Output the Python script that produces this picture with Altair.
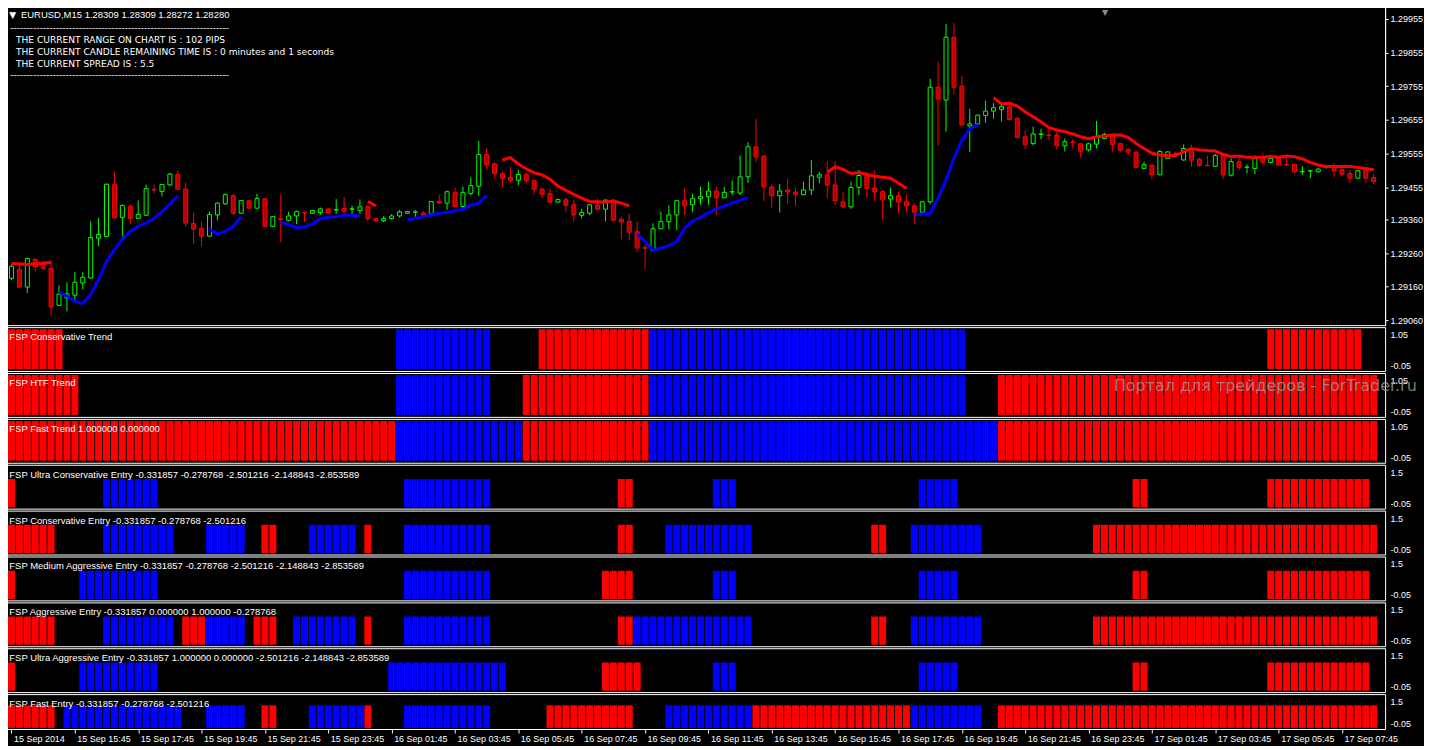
import altair as alt
import pandas as pd

# ---------------- values ----------------
open_ = [1.29185,1.29212,1.29159,1.29241,1.29230,1.29215,1.29105,1.29127,1.29135,1.29171,
 1.29186,1.29304,1.29309,1.29463,1.29366,1.29398,1.29363,1.29372,1.29448,1.29443,
 1.29462,1.29493,1.29450,1.29348,1.29333,1.29310,1.29373,1.29406,1.29430,1.29378,
 1.29415,1.29393,1.29421,1.29339,1.29362,1.29357,1.29370,1.29381,1.29378,1.29380,
 1.29391,1.29388,1.29392,1.29390,1.29386,1.29398,1.29362,1.29356,1.29362,1.29370,
 1.29378,1.29381,1.29379,1.29375,1.29413,1.29408,1.29439,1.29398,1.29437,1.29458,
 1.29552,1.29525,1.29496,1.29484,1.29476,1.29493,1.29475,1.29450,1.29436,1.29411,
 1.29418,1.29403,1.29372,1.29378,1.29403,1.29390,1.29416,1.29360,1.29354,1.29323,
 1.29276,1.29267,1.29332,1.29353,1.29373,1.29415,1.29403,1.29421,1.29427,1.29444,
 1.29424,1.29441,1.29438,1.29486,1.29575,1.29548,1.29456,1.29430,1.29447,1.29441,
 1.29433,1.29447,1.29485,1.29492,1.29462,1.29412,1.29397,1.29455,1.29490,1.29453,
 1.29442,1.29420,1.29430,1.29412,1.29400,1.29381,1.29412,1.29752,1.29714,1.29900,
 1.29755,1.29637,1.29643,1.29668,1.29681,1.29686,1.29694,1.29660,1.29605,1.29585,
 1.29612,1.29610,1.29610,1.29578,1.29589,1.29584,1.29566,1.29583,1.29600,1.29610,
 1.29585,1.29568,1.29558,1.29511,1.29521,1.29492,1.29541,1.29556,1.29536,1.29568,
 1.29538,1.29520,1.29517,1.29549,1.29491,1.29531,1.29514,1.29511,1.29541,1.29529,
 1.29541,1.29522,1.29523,1.29501,1.29503,1.29501,1.29514,1.29514,1.29507,1.29496,
 1.29482,1.29507,1.29484]

high_ = [1.29226,1.29226,1.29246,1.29245,1.29237,1.29238,1.29164,1.29173,1.29203,1.29203,
 1.29354,1.29365,1.29466,1.29501,1.29404,1.29404,1.29416,1.29463,1.29463,1.29464,
 1.29498,1.29505,1.29469,1.29380,1.29354,1.29383,1.29410,1.29437,1.29436,1.29417,
 1.29417,1.29436,1.29423,1.29370,1.29434,1.29383,1.29386,1.29383,1.29387,1.29395,
 1.29393,1.29420,1.29425,1.29400,1.29419,1.29400,1.29365,1.29370,1.29375,1.29388,
 1.29384,1.29387,1.29385,1.29414,1.29433,1.29445,1.29454,1.29457,1.29484,1.29593,
 1.29572,1.29528,1.29501,1.29516,1.29507,1.29498,1.29478,1.29451,1.29451,1.29421,
 1.29425,1.29419,1.29391,1.29404,1.29421,1.29419,1.29420,1.29368,1.29377,1.29354,
 1.29285,1.29348,1.29383,1.29401,1.29416,1.29454,1.29436,1.29457,1.29472,1.29456,
 1.29456,1.29475,1.29549,1.29589,1.29658,1.29549,1.29464,1.29465,1.29480,1.29453,
 1.29472,1.29536,1.29501,1.29533,1.29533,1.29442,1.29472,1.29507,1.29501,1.29505,
 1.29447,1.29454,1.29442,1.29434,1.29408,1.29415,1.29777,1.29827,1.29939,1.29942,
 1.29785,1.29688,1.29670,1.29712,1.29705,1.29702,1.29699,1.29661,1.29623,1.29635,
 1.29629,1.29625,1.29625,1.29600,1.29598,1.29587,1.29587,1.29652,1.29617,1.29611,
 1.29586,1.29569,1.29564,1.29531,1.29522,1.29566,1.29561,1.29561,1.29582,1.29581,
 1.29543,1.29549,1.29554,1.29556,1.29541,1.29543,1.29523,1.29549,1.29558,1.29551,
 1.29543,1.29546,1.29524,1.29517,1.29505,1.29511,1.29521,1.29526,1.29513,1.29507,
 1.29507,1.29511,1.29496]

low_ = [1.29179,1.29155,1.29141,1.29206,1.29211,1.29073,1.29103,1.29087,1.29120,1.29152,
 1.29185,1.29280,1.29308,1.29362,1.29309,1.29346,1.29362,1.29371,1.29437,1.29428,
 1.29459,1.29448,1.29337,1.29288,1.29280,1.29309,1.29357,1.29403,1.29373,1.29376,
 1.29391,1.29391,1.29337,1.29336,1.29292,1.29354,1.29346,1.29352,1.29376,1.29373,
 1.29377,1.29376,1.29377,1.29376,1.29376,1.29354,1.29352,1.29352,1.29359,1.29365,
 1.29375,1.29365,1.29371,1.29374,1.29405,1.29388,1.29395,1.29393,1.29430,1.29430,
 1.29510,1.29482,1.29457,1.29469,1.29461,1.29469,1.29434,1.29423,1.29408,1.29410,
 1.29383,1.29354,1.29363,1.29372,1.29385,1.29354,1.29354,1.29301,1.29298,1.29263,
 1.29213,1.29266,1.29331,1.29330,1.29328,1.29373,1.29381,1.29403,1.29403,1.29373,
 1.29423,1.29431,1.29432,1.29467,1.29530,1.29414,1.29395,1.29380,1.29406,1.29399,
 1.29431,1.29432,1.29467,1.29423,1.29403,1.29393,1.29391,1.29432,1.29425,1.29413,
 1.29357,1.29396,1.29378,1.29383,1.29347,1.29380,1.29405,1.29579,1.29620,1.29730,
 1.29639,1.29559,1.29642,1.29646,1.29658,1.29650,1.29652,1.29600,1.29568,1.29579,
 1.29597,1.29595,1.29568,1.29561,1.29570,1.29544,1.29561,1.29570,1.29598,1.29561,
 1.29559,1.29551,1.29513,1.29510,1.29479,1.29491,1.29539,1.29552,1.29534,1.29516,
 1.29516,1.29517,1.29516,1.29479,1.29487,1.29505,1.29496,1.29494,1.29523,1.29525,
 1.29519,1.29519,1.29496,1.29492,1.29482,1.29499,1.29511,1.29485,1.29488,1.29467,
 1.29480,1.29467,1.29464]

close_ = [1.29221,1.29159,1.29244,1.29220,1.29215,1.29100,1.29138,1.29139,1.29173,1.29188,
 1.29306,1.29315,1.29464,1.29365,1.29401,1.29363,1.29374,1.29451,1.29447,1.29463,
 1.29494,1.29449,1.29349,1.29331,1.29310,1.29374,1.29408,1.29433,1.29378,1.29416,
 1.29393,1.29422,1.29339,1.29368,1.29360,1.29370,1.29383,1.29380,1.29386,1.29391,
 1.29379,1.29389,1.29384,1.29391,1.29397,1.29362,1.29356,1.29362,1.29370,1.29382,
 1.29383,1.29382,1.29372,1.29413,1.29409,1.29442,1.29398,1.29439,1.29460,1.29552,
 1.29522,1.29496,1.29482,1.29476,1.29493,1.29475,1.29449,1.29434,1.29411,1.29419,
 1.29402,1.29373,1.29380,1.29403,1.29390,1.29417,1.29357,1.29352,1.29322,1.29275,
 1.29274,1.29332,1.29353,1.29373,1.29415,1.29400,1.29421,1.29427,1.29444,1.29424,
 1.29440,1.29442,1.29486,1.29575,1.29545,1.29456,1.29430,1.29444,1.29441,1.29433,
 1.29447,1.29489,1.29492,1.29462,1.29415,1.29397,1.29454,1.29490,1.29452,1.29441,
 1.29418,1.29430,1.29411,1.29400,1.29381,1.29412,1.29752,1.29717,1.29900,1.29752,
 1.29640,1.29643,1.29669,1.29681,1.29691,1.29694,1.29656,1.29603,1.29581,1.29613,
 1.29613,1.29609,1.29578,1.29590,1.29588,1.29562,1.29584,1.29604,1.29612,1.29582,
 1.29565,1.29559,1.29514,1.29522,1.29492,1.29561,1.29560,1.29555,1.29570,1.29535,
 1.29520,1.29519,1.29549,1.29492,1.29531,1.29514,1.29515,1.29541,1.29529,1.29541,
 1.29521,1.29521,1.29501,1.29502,1.29504,1.29509,1.29515,1.29504,1.29494,1.29482,
 1.29504,1.29482,1.29472]

# moving-average line: (colour, first bar, values)
ma_segments = [
    ("#FF0000", 0, [1.29229,1.29228,1.29226,1.29228,1.29230,1.29232]),
    ("#0000FF", 6, [1.29144,1.29132,1.29117,1.29110,1.29137,1.29181,1.29235,1.29270,
                    1.29302,1.29324,1.29339,1.29349,1.29363,1.29383,1.29406,1.29430]),
    ("#0000FF", 25, [1.29331,1.29317,1.29324,1.29339,1.29368]),
    ("#0000FF", 34, [1.29352,1.29344,1.29336,1.29337,1.29346,1.29362,1.29366,1.29368,
                     1.29373,1.29371,1.29370]),
    ("#FF0000", 45, [1.29413,1.29400]),
    ("#0000FF", 50, [1.29359,1.29363,1.29368,1.29372,1.29378,1.29380,1.29385,1.29390,
                     1.29402,1.29408,1.29431]),
    ("#FF0000", 62, [1.29536,1.29543,1.29524,1.29510,1.29498,1.29492,1.29479,1.29459,
                     1.29446,1.29434,1.29423,1.29413,1.29412,1.29411,1.29415,1.29408,1.29400]),
    ("#0000FF", 79, [1.29316,1.29294,1.29268,1.29275,1.29282,1.29294,1.29334,1.29356,
                     1.29365,1.29380,1.29391,1.29399,1.29408,1.29416,1.29425]),
    ("#FF0000", 103, [1.29499,1.29516,1.29508,1.29496,1.29499,1.29493,1.29488,1.29485,
                      1.29482,1.29467,1.29452]),
    ("#0000FF", 114, [1.29373,1.29376,1.29378,1.29423,1.29477,1.29541,1.29595,1.29628,1.29640]),
    ("#FF0000", 124, [1.29721,1.29702,1.29704,1.29696,1.29679,1.29664,1.29649,1.29632,
                      1.29625,1.29620,1.29613,1.29605,1.29599,1.29605,1.29607,1.29610,
                      1.29610,1.29603,1.29585,1.29570,1.29556,1.29551,1.29549,1.29549,
                      1.29561,1.29570,1.29566,1.29564,1.29563,1.29553,1.29546,1.29548,
                      1.29544,1.29544,1.29544,1.29546,1.29544,1.29548,1.29546,1.29539,
                      1.29529,1.29521,1.29517,1.29517,1.29517,1.29517,1.29514,1.29511,1.29507]),
]

price_ticks = [1.29955, 1.29855, 1.29755, 1.29655, 1.29555, 1.29455,
               1.29360, 1.29260, 1.29160, 1.29060]

time_tick_bars = [0, 8, 16, 24, 32, 40, 48, 56, 64, 72, 80, 88, 96, 104,
                  112, 120, 128, 136, 144, 152, 160, 168]
time_labels = ["15 Sep 2014", "15 Sep 15:45", "15 Sep 17:45", "15 Sep 19:45",
               "15 Sep 21:45", "15 Sep 23:45", "16 Sep 01:45", "16 Sep 03:45",
               "16 Sep 05:45", "16 Sep 07:45", "16 Sep 09:45", "16 Sep 11:45",
               "16 Sep 13:45", "16 Sep 15:45", "16 Sep 17:45", "16 Sep 19:45",
               "16 Sep 21:45", "16 Sep 23:45", "17 Sep 01:45", "17 Sep 03:45",
               "17 Sep 05:45", "17 Sep 07:45"]

# indicator rows: (title, kind, [(colour, first bar, last bar), ...])
indicator_rows = [
    ("FSP Conservative Trend", "trend",
     [("R", 0, 6), ("B", 49, 60), ("R", 67, 80), ("B", 81, 120), ("R", 159, 170)]),
    ("FSP HTF Trend", "trend",
     [("R", 0, 8), ("B", 49, 60), ("R", 65, 80), ("B", 81, 120), ("R", 125, 172)]),
    ("FSP Fast Trend 1.000000 0.000000", "trend",
     [("R", 0, 48), ("B", 49, 64), ("R", 65, 80), ("B", 81, 124), ("R", 125, 172)]),
    ("FSP Ultra Conservative Entry -0.331857 -0.278768 -2.501216 -2.148843 -2.853589", "entry",
     [("R", 0, 0), ("B", 12, 18), ("B", 50, 60), ("R", 77, 78), ("B", 89, 91),
      ("B", 115, 119), ("R", 142, 143), ("R", 159, 171)]),
    ("FSP Conservative Entry -0.331857 -0.278768 -2.501216", "entry",
     [("R", 0, 5), ("B", 12, 20), ("B", 25, 29), ("R", 32, 33), ("B", 38, 43), ("R", 45, 45),
      ("B", 50, 60), ("R", 77, 78), ("B", 83, 93), ("R", 109, 110), ("B", 114, 122), ("R", 137, 172)]),
    ("FSP Medium Aggressive Entry -0.331857 -0.278768 -2.501216 -2.148843 -2.853589", "entry",
     [("R", 0, 0), ("B", 9, 18), ("B", 50, 60), ("R", 75, 78), ("B", 89, 91),
      ("B", 115, 119), ("R", 142, 143), ("R", 159, 171)]),
    ("FSP Aggressive Entry -0.331857 0.000000 1.000000 -0.278768", "entry",
     [("R", 0, 5), ("B", 12, 20), ("R", 22, 24), ("B", 25, 29), ("R", 31, 33), ("B", 36, 43),
      ("R", 45, 45), ("B", 50, 60), ("R", 77, 78), ("B", 79, 93), ("R", 109, 110),
      ("B", 114, 122), ("R", 137, 172)]),
    ("FSP Ultra Aggressive Entry -0.331857 1.000000 0.000000 -2.501216 -2.148843 -2.853589", "entry",
     [("R", 0, 0), ("B", 9, 18), ("B", 48, 62), ("R", 75, 79), ("B", 89, 91),
      ("B", 115, 119), ("R", 142, 143), ("R", 159, 171)]),
    ("FSP Fast Entry -0.331857 -0.278768 -2.501216", "entry",
     [("R", 0, 5), ("B", 7, 21), ("B", 25, 29), ("R", 32, 33), ("B", 38, 44), ("R", 45, 45),
      ("B", 50, 60), ("R", 68, 78), ("B", 83, 93), ("R", 94, 113), ("B", 114, 122), ("R", 125, 172)]),
]

header_text = "EURUSD,M15  1.28309 1.28309 1.28272 1.28280"
info_lines = ["THE CURRENT RANGE ON CHART IS : 102 PIPS",
              "THE CURRENT CANDLE REMAINING TIME IS : 0 minutes and 1 seconds",
              "THE CURRENT SPREAD IS : 5.5"]
watermark = "Портал для трейдеров - ForTrader.ru"

# ---------------- layout / style ----------------
W = 1383
MAIN_H = 320
IND_H = 44
LAST_H = 35
X_DOMAIN = [-0.0625, 172.8125]
Y_DOMAIN = [1.290461, 1.299926]
WHITE = "#FFFFFF"
NUM_FONT = "Liberation Sans"
COLOR_MAP = {"R": "#FF0000", "B": "#0000FF"}

x_scale = alt.Scale(domain=X_DOMAIN, nice=False, zero=False)
y_scale = alt.Scale(domain=Y_DOMAIN, nice=False, zero=False)

candles = pd.DataFrame({"bar": list(range(len(open_))), "open": open_, "high": high_,
                        "low": low_, "close": close_})
up = candles["close"] >= candles["open"]
candles["wick_col"] = up.map({True: "#00FF00", False: "#FF0000"})
candles["body_fill"] = up.map({True: "#000000", False: "#B40000"})
candles["body_edge"] = up.map({True: "#00FF00", False: "#FF0000"})

ma_rows = []
for seg_id, (col, start, vals) in enumerate(ma_segments):
    for i, v in enumerate(vals):
        ma_rows.append({"bar": start + i, "ma": v, "col": col, "seg": seg_id})
ma_df = pd.DataFrame(ma_rows)

main_axis = alt.Axis(orient="right", values=price_ticks, format=".5f", title=None,
                     grid=False, tickSize=3, tickColor=WHITE, domainColor=WHITE,
                     labelColor=WHITE, labelFont=NUM_FONT, labelFontSize=9,
                     labelPadding=2, labelOverlap=False)


def ytrack(field):
    return alt.Y(f"{field}:Q", scale=y_scale, axis=main_axis)


def xtrack(axis=None):
    return alt.X("bar:Q", scale=x_scale, axis=axis)


def label(text, x, y, size=9.5, font=NUM_FONT, color=WHITE, baseline="alphabetic",
          opacity=1.0):
    return alt.Chart(pd.DataFrame({"t": [text]})).mark_text(
        align="left", baseline=baseline, font=font, fontSize=size, color=color,
        opacity=opacity
    ).encode(x=alt.value(x), y=alt.value(y), text="t:N")


base = alt.Chart(candles)
wicks = base.mark_rule(strokeWidth=1, clip=True).encode(
    x=xtrack(), y=ytrack("low"), y2="high:Q",
    color=alt.Color("wick_col:N", scale=None))
bodies = base.mark_bar(size=4, strokeWidth=1, clip=True).encode(
    x=xtrack(), y=ytrack("open"), y2="close:Q",
    fill=alt.Fill("body_fill:N", scale=None),
    stroke=alt.Stroke("body_edge:N", scale=None))
ma_line = alt.Chart(ma_df).mark_line(strokeWidth=3, clip=True).encode(
    x=xtrack(), y=ytrack("ma"),
    color=alt.Color("col:N", scale=None), detail="seg:N")

texts = [
    label("\u25BC", 3.3, 8.5, size=9, font="DejaVu Sans", baseline="middle"),
    label(header_text, 15, 12, size=9.5),
    label("-" * 67, 4, 24.6, size=9.1, font="DejaVu Sans"),
    label(info_lines[0], 10, 36.7, size=9.1, font="DejaVu Sans"),
    label(info_lines[1], 10, 48.7, size=9.1, font="DejaVu Sans"),
    label(info_lines[2], 10, 61, size=9.1, font="DejaVu Sans"),
    label("-" * 67, 4, 72.2, size=9.1, font="DejaVu Sans"),
    label("\u25BC", 1099, 2.5, size=8, font="DejaVu Sans", color="#7f8c99", baseline="top"),
]

main = alt.layer(wicks, bodies, ma_line, *texts).properties(width=W, height=MAIN_H)

panels = []
n_rows = len(indicator_rows)
for idx, (title, kind, runs) in enumerate(indicator_rows):
    last = idx == n_rows - 1
    h = LAST_H if last else IND_H
    rows = []
    for code, a, b in runs:
        for k in range(a, b + 1):
            rows.append({"bar": k, "lo": 0.0, "hi": 1.0, "col": COLOR_MAP[code]})
    df = pd.DataFrame(rows)
    top = 1.05 if kind == "trend" else 1.5
    dom = [-0.05, top]
    per_px = (dom[1] - dom[0]) / h
    top_pos = dom[1] - 7.5 * per_px
    bot_pos = dom[0] + 5.5 * per_px
    top_txt = "1.05" if kind == "trend" else "1.5"
    y_axis = alt.Axis(orient="right", values=[top_pos, bot_pos],
                      labelExpr=f"datum.value > 0.5 ? '{top_txt}' : '-0.05'",
                      ticks=False, domain=False, grid=False, title=None,
                      labelPadding=5, labelColor=WHITE, labelFont=NUM_FONT,
                      labelFontSize=9, labelOverlap=False)
    if last:
        expr = "[" + ",".join(f"'{s}'" for s in time_labels) + "][round(datum.value / 8)]"
        x_axis = alt.Axis(values=time_tick_bars, labelExpr=expr, title=None, grid=False,
                          domain=False, tickSize=4, tickColor=WHITE, labelColor=WHITE,
                          labelFont=NUM_FONT, labelFontSize=9, labelAlign="left",
                          labelBaseline="top", labelPadding=2, labelOffset=2,
                          labelOverlap=False, labelFlush=False, labelBound=False)
    else:
        x_axis = None
    bars = alt.Chart(df).mark_bar(size=7, clip=True).encode(
        x=xtrack(x_axis),
        y=alt.Y("lo:Q", scale=alt.Scale(domain=dom, nice=False, zero=False), axis=y_axis),
        y2="hi:Q",
        color=alt.Color("col:N", scale=None))
    layers = [bars, label(title, 3.3, 13, size=9.5)]
    if idx == 1:
        layers.append(label(watermark, 1111, 13, size=16, font="DejaVu Sans",
                            color="#9a9a9a", baseline="middle", opacity=0.8))
    panels.append(alt.layer(*layers).properties(width=W, height=h))

chart = alt.vconcat(main, *panels, spacing=2, bounds="flush").properties(
    padding={"left": -3, "top": -4, "right": 0, "bottom": 0}, background="#000000"
).configure_view(stroke=WHITE, strokeWidth=1)

chart.save("out.html", embed_options={"renderer": "svg", "actions": False})
